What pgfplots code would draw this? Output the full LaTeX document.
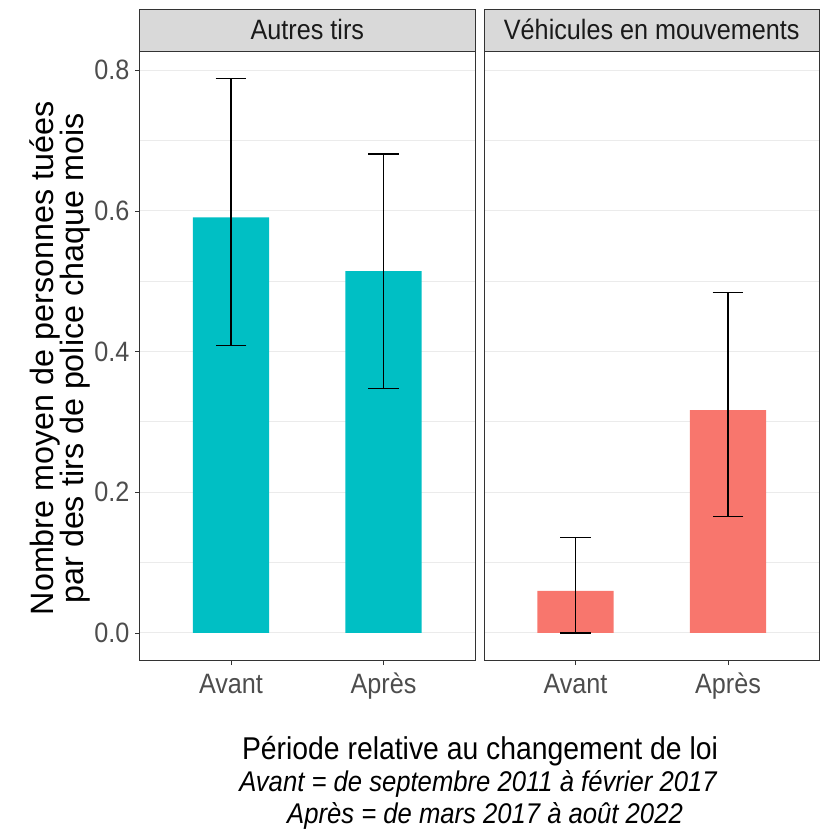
\documentclass[border=0pt]{standalone}
\usepackage{fontspec}
\setmainfont{Liberation Sans}[FakeStretch=0.9]
\newfontfamily\vfont{Liberation Sans}
\usepackage{pgfplots}
\pgfplotsset{compat=1.18}
\usepackage{pgfplotstable}
\definecolor{teal}{HTML}{00BFC4}
\definecolor{salmon}{HTML}{F8766D}
\definecolor{gtwenty}{HTML}{333333}
\definecolor{gthirty}{HTML}{4D4D4D}
\definecolor{gten}{HTML}{1A1A1A}
\definecolor{strip}{HTML}{D9D9D9}
\definecolor{gridc}{HTML}{EBEBEB}

\pgfplotstableread{
x y ep em
1 0.5907 0.1973 0.1823
2 0.5145 0.1665 0.1671
}\autres
\pgfplotstableread{
x y ep em
1 0.0600 0.0758 0.0600
2 0.3170 0.1667 0.1510
}\vehicules

\pgfplotsset{
  facet/.style={
    anchor=south west,
    scale only axis,
    width=335.5pt, height=609.7pt,
    xmin=0.4, xmax=2.6,
    ymin=-0.0394, ymax=0.8274,
    xtick={1,2}, xticklabels={Avant,Après},
    ytick={0,0.2,0.4,0.6,0.8},
    minor ytick={0.1,0.3,0.5,0.7},
    ymajorgrids, yminorgrids,
    grid style={draw=gridc, line width=1pt},
    minor grid style={draw=gridc, line width=1pt},
    minor tick length=0pt,
    major tick length=4.5pt,
    tick align=outside,
    xtick pos=bottom, ytick pos=left,
    axis line style={draw=gtwenty, line width=0.8pt},
    tick style={draw=gtwenty, line width=0.8pt},
    /pgf/number format/.cd, fixed, fixed zerofill, precision=1, assume math mode=true,
    /pgfplots/.cd,
    tick label style={font=\fontsize{28}{30}\selectfont, text=gthirty},
    xticklabel style={text height=20pt, yshift=-5pt},
    yticklabel style={xshift=-2pt},
    clip=false,
  },
  errs/.style={
    error bars/.cd, y dir=both, y explicit,
    error bar style={black, line width=1.1pt},
    error mark=|,
    error mark options={black, line width=1.3pt, mark size=15.3pt},
  },
}

\begin{document}
\begin{tikzpicture}
\useasboundingbox (0pt,0pt) rectangle (821pt,834pt);

% left facet
\begin{axis}[facet, at={(139.5pt,173.3pt)}]
\addplot[ybar, bar width=0.5, draw=none, fill=teal, errs] table[x=x, y=y, y error plus=ep, y error minus=em] {\autres};
\end{axis}

% right facet
\begin{axis}[facet, at={(484pt,173.3pt)}, yticklabels={}, ytick style={draw=none}]
\addplot[ybar, bar width=0.5, draw=none, fill=salmon, errs] table[x=x, y=y, y error plus=ep, y error minus=em] {\vehicules};
\end{axis}

% strips
\draw[gtwenty, line width=0.8pt, fill=strip] (139.5pt,783pt) rectangle (475pt,824.7pt);
\draw[gtwenty, line width=0.8pt, fill=strip] (484pt,783pt) rectangle (819.5pt,824.7pt);
\node[anchor=base, text=gten, font=\fontsize{28}{30}\selectfont, inner sep=0pt] at (307.3pt,794pt) {Autres tirs};
\node[anchor=base, text=gten, font=\fontsize{28}{30}\selectfont, inner sep=0pt] at (651.7pt,794pt) {Véhicules en mouvements};

% y title
\node[rotate=90, anchor=base, inner sep=0pt, font=\vfont\fontsize{32.3}{34}\selectfont] at (53.3pt,475.5pt) {Nombre moyen de personnes tuées};
\node[rotate=90, anchor=base, inner sep=0pt, font=\vfont\fontsize{32.3}{34}\selectfont] at (83.3pt,475.5pt) {par des tirs de police chaque mois};

% x title and caption
\node[anchor=base, inner sep=0pt, font=\fontsize{31.5}{33}\selectfont] at (480pt,74.7pt) {Période relative au changement de loi};
\node[anchor=base, inner sep=0pt, font=\fontsize{28.5}{30}\selectfont\itshape] at (478pt,42.3pt) {Avant = de septembre 2011 à février 2017};
\node[anchor=base, inner sep=0pt, font=\fontsize{28.5}{30}\selectfont\itshape] at (485pt,10.7pt) {Après = de mars 2017 à août 2022};
\end{tikzpicture}
\end{document}
